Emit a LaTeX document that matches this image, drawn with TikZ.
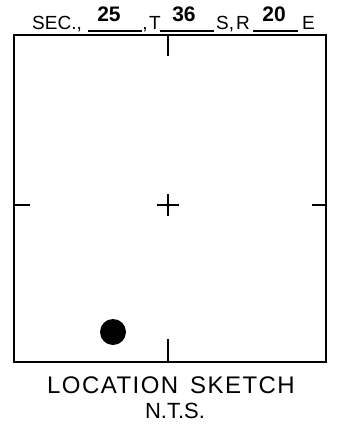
\documentclass[tikz,border=0pt]{standalone}
\usepackage{fontspec}
\setmainfont{Liberation Sans}
\newfontfamily\lblfont[LetterSpace=6]{Liberation Sans}
\begin{document}
\begin{tikzpicture}[x=1pt,y=-1pt,
  frame/.style={line width=2.8pt,line join=miter},
  tickline/.style={line width=2.8pt},
  hdr/.style={font=\fontsize{19}{19}\selectfont,anchor=base,inner sep=0pt},
  num/.style={font=\fontsize{21}{21}\selectfont\bfseries,anchor=base,inner sep=0pt},
  uline/.style={line width=1.4pt},
  ttl/.style={font=\lblfont\fontsize{24}{24}\selectfont,anchor=base,inner sep=0pt}]
\useasboundingbox (0,0) rectangle (338,425);
% frame
\coordinate (tl) at (14,35);
\coordinate (br) at (326,362);
\draw[frame] (tl) rectangle (br);
% ticks
\coordinate (tm) at (168,35);
\coordinate (tmi) at (168,56);
\coordinate (bm) at (168,362);
\coordinate (bmi) at (168,339);
\coordinate (lm) at (14,205);
\coordinate (lmi) at (30,205);
\coordinate (rm) at (326,205);
\coordinate (rmi) at (312,205);
\draw[tickline] (tm) -- (tmi);
\draw[tickline] (bm) -- (bmi);
\draw[tickline] (lm) -- (lmi);
\draw[tickline] (rm) -- (rmi);
% center cross
\coordinate (c) at (168,205);
\draw[tickline] (157,205) -- (179,205);
\draw[tickline] (168,194) -- (168,216);
% dot
\fill (113,332) circle (13);
% header
\node[hdr,anchor=base west] (sec) at (32,30) {SEC.,};
\draw[uline] (88,31) -- (142,31);
\node[num] (n25) at (109,22) {25};
\node[hdr] (comma1) at (145,30) {,};
\node[hdr,anchor=base west] (t) at (149,30) {T};
\draw[uline] (160,31) -- (214,31);
\node[num] (n36) at (184,22) {36};
\node[hdr,anchor=base west] (s) at (216,30) {S,};
\node[hdr,anchor=base west] (r) at (236,30) {R};
\draw[uline] (253,31) -- (298,31);
\node[num] (n20) at (274,22) {20};
\node[hdr,anchor=base west] (e) at (302,30) {E};
% title
\node[ttl] (title) at (171,393) {LOCATION\hspace{12pt}SKETCH};
\node[hdr,font=\fontsize{22}{22}\selectfont] (nts) at (175,418) {N.T.S.};
\end{tikzpicture}
\end{document}
